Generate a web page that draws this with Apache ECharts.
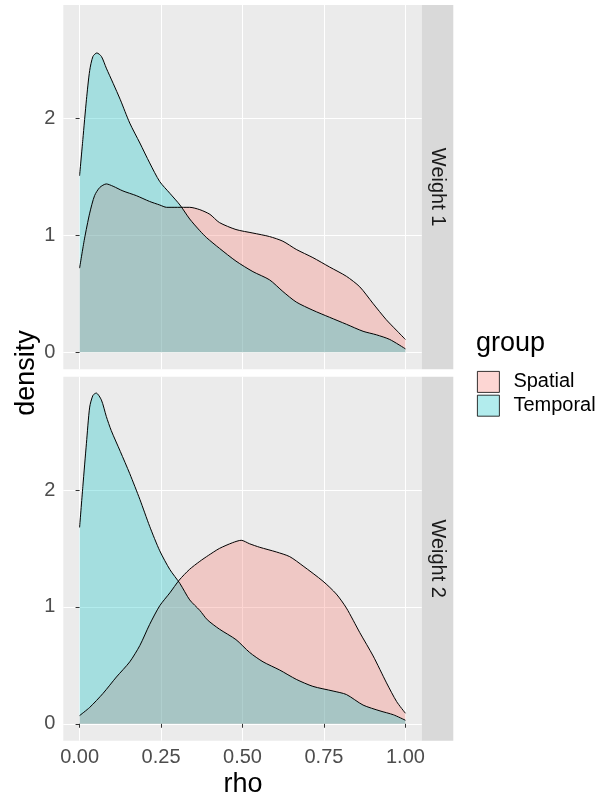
<!DOCTYPE html>
<html><head><meta charset="utf-8">
<script src="https://cdn.jsdelivr.net/npm/echarts@6/dist/echarts.min.js"></script>
<style>html,body{margin:0;padding:0;background:#fff}#c{width:605px;height:800px}</style>
</head><body><div id="c"></div>
<script>
const groups = ['Spatial', 'Temporal'];
const panels = ['Weight 1', 'Weight 2'];
const xTicks = [0, 0.25, 0.5, 0.75, 1];
const yTicks = [0, 1, 2];

const w1SpatialRho = [0, 0.015, 0.031, 0.046, 0.062, 0.082, 0.103, 0.133, 0.174, 0.215, 0.246, 0.267, 0.3, 0.338, 0.369, 0.4, 0.429, 0.48, 0.532, 0.583, 0.624, 0.665, 0.716, 0.767, 0.819, 0.86, 0.9, 0.941, 0.972, 1.0];
const w1SpatialDen = [0.72, 0.97, 1.19, 1.34, 1.41, 1.44, 1.42, 1.38, 1.34, 1.29, 1.26, 1.24, 1.24, 1.24, 1.22, 1.18, 1.11, 1.05, 1.02, 0.99, 0.95, 0.88, 0.81, 0.73, 0.65, 0.56, 0.42, 0.28, 0.19, 0.11];

const w1TemporalRho = [0, 0.01, 0.021, 0.031, 0.041, 0.053, 0.067, 0.082, 0.103, 0.125, 0.154, 0.185, 0.215, 0.246, 0.277, 0.308, 0.338, 0.369, 0.39, 0.429, 0.48, 0.532, 0.583, 0.624, 0.665, 0.716, 0.767, 0.819, 0.87, 0.911, 0.952, 1.0];
const w1TemporalDen = [1.51, 1.82, 2.16, 2.41, 2.53, 2.56, 2.53, 2.43, 2.30, 2.16, 1.96, 1.79, 1.62, 1.46, 1.36, 1.26, 1.14, 1.04, 0.98, 0.89, 0.78, 0.69, 0.62, 0.52, 0.43, 0.36, 0.30, 0.24, 0.18, 0.15, 0.11, 0.03];

const w2SpatialRho = [0, 0.031, 0.072, 0.113, 0.154, 0.185, 0.215, 0.246, 0.277, 0.306, 0.337, 0.369, 0.395, 0.429, 0.47, 0.496, 0.522, 0.553, 0.604, 0.645, 0.686, 0.747, 0.788, 0.819, 0.86, 0.901, 0.942, 0.973, 1.0];
const w2SpatialDen = [0.07, 0.14, 0.26, 0.40, 0.53, 0.67, 0.85, 1.01, 1.12, 1.23, 1.32, 1.39, 1.44, 1.50, 1.55, 1.57, 1.54, 1.51, 1.47, 1.43, 1.35, 1.22, 1.11, 0.99, 0.78, 0.58, 0.35, 0.19, 0.09];

const w2TemporalRho = [0, 0.01, 0.021, 0.031, 0.041, 0.051, 0.067, 0.082, 0.097, 0.125, 0.154, 0.185, 0.215, 0.246, 0.277, 0.308, 0.338, 0.369, 0.392, 0.429, 0.48, 0.522, 0.563, 0.614, 0.665, 0.716, 0.778, 0.819, 0.87, 0.922, 0.963, 1.0];
const w2TemporalDen = [1.68, 2.03, 2.40, 2.71, 2.81, 2.83, 2.77, 2.63, 2.51, 2.33, 2.14, 1.92, 1.69, 1.48, 1.32, 1.20, 1.06, 0.97, 0.89, 0.81, 0.72, 0.61, 0.53, 0.46, 0.38, 0.32, 0.28, 0.25, 0.16, 0.11, 0.077, 0.03];

const FONT = "'Liberation Sans', Arial, sans-serif";
const fills = {Spatial: 'rgba(248,118,109,0.3)', Temporal: 'rgba(0,191,196,0.3)'};
const zip = (a, b) => a.map((v, i) => [v, b[i]]);

const gridDefs = [
  {left: 63.3, top: 5, width: 358.4, height: 364.3},
  {left: 63.3, top: 376.7, width: 358.4, height: 364}
];

const xAxes = gridDefs.map((g, i) => ({
  type: 'value', gridIndex: i, min: -0.05, max: 1.05,
  minInterval: 0.125, maxInterval: 0.125,
  axisLine: {show: false},
  axisTick: {show: i === 1, customValues: xTicks, length: 4, lineStyle: {color: '#333333', width: 1}},
  axisLabel: {show: i === 1, customValues: xTicks, formatter: v => v.toFixed(2), fontSize: 20, color: '#4D4D4D', fontFamily: FONT, margin: 7},
  splitLine: {show: true, lineStyle: {color: '#FFFFFF', width: 1}}
}));
const yAxes = gridDefs.map((g, i) => ({
  type: 'value', gridIndex: i, min: -0.145, max: 2.97,
  minInterval: 0.5, maxInterval: 0.5,
  axisLine: {show: false},
  axisTick: {show: true, customValues: yTicks, length: 4, lineStyle: {color: '#333333', width: 1}},
  axisLabel: {show: true, customValues: yTicks, formatter: v => String(v), fontSize: 20, color: '#4D4D4D', fontFamily: FONT, margin: 8},
  splitLine: {show: true, lineStyle: {color: '#FFFFFF', width: 1}}
}));

const seriesDefs = [
  {name: 'Spatial', panel: 0, rho: w1SpatialRho, den: w1SpatialDen},
  {name: 'Temporal', panel: 0, rho: w1TemporalRho, den: w1TemporalDen},
  {name: 'Spatial', panel: 1, rho: w2SpatialRho, den: w2SpatialDen},
  {name: 'Temporal', panel: 1, rho: w2TemporalRho, den: w2TemporalDen}
];
const series = seriesDefs.map(s => ({
  type: 'line', name: s.name, xAxisIndex: s.panel, yAxisIndex: s.panel,
  data: zip(s.rho, s.den), symbol: 'none', showSymbol: false,
  smooth: 0.25, silent: true,
  lineStyle: {color: '#000000', width: 1},
  itemStyle: {color: fills[s.name]},
  areaStyle: {color: fills[s.name], opacity: 1, origin: 0}
}));

const graphics = [];
gridDefs.forEach((g, i) => {
  graphics.push({type: 'rect', silent: true, shape: {x: g.left + g.width, y: g.top, width: 31.6, height: g.height}, style: {fill: '#D9D9D9'}});
  graphics.push({type: 'text', silent: true, x: g.left + g.width + 15.8, y: g.top + g.height / 2, rotation: -Math.PI / 2,
    style: {text: panels[i], fill: '#1A1A1A', font: '20px ' + FONT, align: 'center', verticalAlign: 'middle'}});
});
graphics.push({type: 'text', silent: true, x: 27, y: 373, rotation: Math.PI / 2,
  style: {text: 'density', fill: '#000000', font: '27px ' + FONT, align: 'center', verticalAlign: 'middle'}});
graphics.push({type: 'text', silent: true, x: 243, y: 785, 
  style: {text: 'rho', fill: '#000000', font: '27px ' + FONT, align: 'center', verticalAlign: 'middle'}});
graphics.push({type: 'text', silent: true, x: 476, y: 344,
  style: {text: 'group', fill: '#000000', font: '27px ' + FONT, align: 'left', verticalAlign: 'middle'}});

const option = {
  animation: false,
  backgroundColor: '#FFFFFF',
  grid: gridDefs.map(g => Object.assign({show: true, backgroundColor: '#EBEBEB', borderWidth: 0, containLabel: false}, g)),
  xAxis: xAxes,
  yAxis: yAxes,
  legend: {
    orient: 'vertical', left: 477, top: 371, padding: 0,
    itemWidth: 22, itemHeight: 21, itemGap: 2, icon: 'rect', selectedMode: false,
    textStyle: {fontSize: 20, color: '#000000', fontFamily: FONT, padding: [0, 0, 0, 9]},
    data: groups.map(n => ({name: n, icon: 'rect', itemStyle: {color: fills[n], borderColor: '#000000', borderWidth: 0.8}}))
  },
  series: series,
  graphic: graphics
};
const chart = echarts.init(document.getElementById('c'), null, {renderer: 'canvas'});
chart.setOption(option);
</script>
</body></html>
